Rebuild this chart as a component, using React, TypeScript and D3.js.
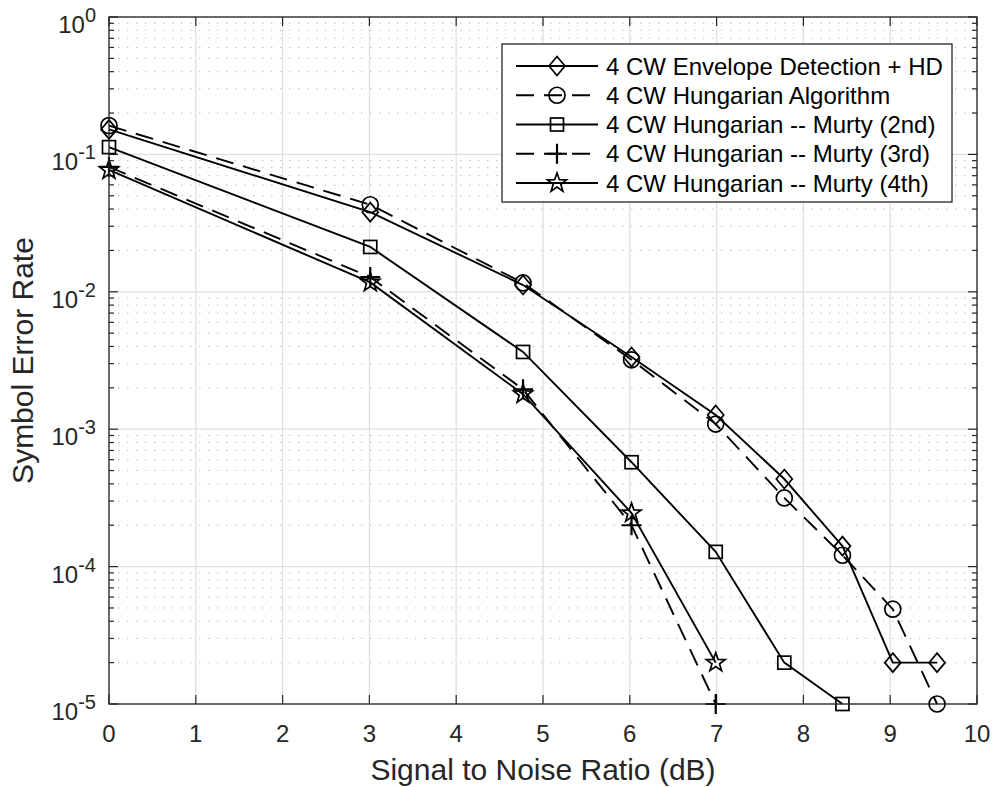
import React from "react";
import * as d3 from "d3";

const snr = [0, 3.01, 4.77, 6.02, 6.99, 7.78, 8.45, 9.03, 9.54];
const envHD = [0.152, 0.038, 0.0112, 0.00335, 0.00127, 0.000434, 0.000141, 2e-5, 2e-5];
const hungarian = [0.162, 0.043, 0.0116, 0.0032, 0.00109, 0.000316, 0.000121, 4.9e-5, 1e-5];
const murty2 = [0.113, 0.0212, 0.00365, 0.000575, 0.000128, 2e-5, 1e-5];
const murty3 = [0.081, 0.0128, 0.00195, 0.0002, 1e-5];
const murty4 = [0.077, 0.0117, 0.0018, 0.000245, 2e-5];

const seriesNames = [
  "4 CW Envelope Detection + HD",
  "4 CW Hungarian Algorithm",
  "4 CW Hungarian -- Murty (2nd)",
  "4 CW Hungarian -- Murty (3rd)",
  "4 CW Hungarian -- Murty (4th)",
];
const seriesValues = [envHD, hungarian, murty2, murty3, murty4];
const seriesMarkers = ["diamond", "circle", "square", "plus", "star"];
const seriesDashed = [false, true, false, true, false];

const xTicks = [0, 1, 2, 3, 4, 5, 6, 7, 8, 9, 10];
const yExponents = [0, -1, -2, -3, -4, -5];

const W = 995;
const H = 787;
const M = { left: 109, right: 977, top: 17, bottom: 704 };
const FONT = "'Liberation Sans', Arial, Helvetica, sans-serif";
const AX = "#262626";

function Marker({ type, x, y }: { type: string; x: number; y: number }) {
  const sw = 1.7;
  if (type === "diamond") {
    const h = 9.5, w = 8;
    return (
      <path d={`M${x},${y - h}L${x + w},${y}L${x},${y + h}L${x - w},${y}Z`} fill="none" stroke="#000" strokeWidth={sw} />
    );
  }
  if (type === "circle") {
    return <circle cx={x} cy={y} r={8} fill="none" stroke="#000" strokeWidth={sw} />;
  }
  if (type === "square") {
    const s = 6.5;
    return <rect x={x - s} y={y - s} width={2 * s} height={2 * s} fill="none" stroke="#000" strokeWidth={sw} />;
  }
  if (type === "plus") {
    const s = 10;
    return (
      <path d={`M${x - s},${y}L${x + s},${y}M${x},${y - s}L${x},${y + s}`} fill="none" stroke="#000" strokeWidth={2.2} />
    );
  }
  // pentagram
  const R = 10, r = 4;
  const pts: string[] = [];
  for (let i = 0; i < 10; i++) {
    const a = -Math.PI / 2 + (i * Math.PI) / 5;
    const rr = i % 2 === 0 ? R : r;
    pts.push(`${x + rr * Math.cos(a)},${y + rr * Math.sin(a)}`);
  }
  return <path d={`M${pts.join("L")}Z`} fill="none" stroke="#000" strokeWidth={sw} />;
}

export default function App() {
  const x = d3.scaleLinear().domain([0, 10]).range([M.left, M.right]);
  const y = d3.scaleLog().domain([1e-5, 1]).range([M.bottom, M.top]);

  const line = d3
    .line<[number, number]>()
    .x((d) => x(d[0]))
    .y((d) => y(d[1]));

  const minorVals: number[] = [];
  for (let e = -5; e < 0; e++) {
    for (let k = 2; k <= 9; k++) minorVals.push(k * Math.pow(10, e));
  }

  const legendX = 502, legendY = 44, legendW = 450, legendH = 158;
  const rowY = (i: number) => 66 + i * 29.25;

  return (
    <svg width={W} height={H} style={{ display: "block", position: "absolute", left: 0, top: 0, background: "#fff" }}>
      <rect x={0} y={0} width={W} height={H} fill="#fff" />
      {/* minor grid */}
      {minorVals.map((v, i) => (
        <line key={"mg" + i} x1={M.left} x2={M.right} y1={y(v)} y2={y(v)} stroke="#bdbdbd" strokeWidth={1} strokeDasharray="1.5 7.5" />
      ))}
      {/* major grid */}
      {xTicks.map((t) => (
        <line key={"gx" + t} x1={x(t)} x2={x(t)} y1={M.top} y2={M.bottom} stroke="#dfdfdf" strokeWidth={1.3} />
      ))}
      {yExponents.map((e) => (
        <line key={"gy" + e} x1={M.left} x2={M.right} y1={y(Math.pow(10, e))} y2={y(Math.pow(10, e))} stroke="#dfdfdf" strokeWidth={1.3} />
      ))}
      {/* ticks */}
      {xTicks.map((t) => (
        <g key={"tx" + t}>
          <line x1={x(t)} x2={x(t)} y1={M.bottom} y2={M.bottom - 9} stroke={AX} strokeWidth={1.2} />
          <line x1={x(t)} x2={x(t)} y1={M.top} y2={M.top + 9} stroke={AX} strokeWidth={1.2} />
          <text x={x(t)} y={742} textAnchor="middle" fontFamily={FONT} fontSize={24} fill={AX}>
            {t}
          </text>
        </g>
      ))}
      {yExponents.map((e) => (
        <g key={"ty" + e}>
          <line x1={M.left} x2={M.left + 9} y1={y(Math.pow(10, e))} y2={y(Math.pow(10, e))} stroke={AX} strokeWidth={1.2} />
          <line x1={M.right} x2={M.right - 9} y1={y(Math.pow(10, e))} y2={y(Math.pow(10, e))} stroke={AX} strokeWidth={1.2} />
          <text x={96} y={y(Math.pow(10, e)) + 16} textAnchor="end" fontFamily={FONT} fontSize={24} fill={AX}>
            10
            <tspan dy={-11} fontSize={20}>
              {e}
            </tspan>
          </text>
        </g>
      ))}
      {minorVals.map((v, i) => (
        <g key={"mt" + i}>
          <line x1={M.left} x2={M.left + 5} y1={y(v)} y2={y(v)} stroke={AX} strokeWidth={1.2} />
          <line x1={M.right} x2={M.right - 5} y1={y(v)} y2={y(v)} stroke={AX} strokeWidth={1.2} />
        </g>
      ))}
      {/* series */}
      {seriesValues.map((vals, si) => {
        const pts = vals.map((v, i) => [snr[i], v] as [number, number]);
        return (
          <g key={"s" + si}>
            <path d={line(pts) || ""} fill="none" stroke="#000" strokeWidth={1.9} strokeDasharray={seriesDashed[si] ? "18 10" : undefined} />
            {pts.map((p, i) => (
              <Marker key={i} type={seriesMarkers[si]} x={x(p[0])} y={y(p[1])} />
            ))}
          </g>
        );
      })}
      {/* axes box */}
      <rect x={M.left} y={M.top} width={M.right - M.left} height={M.bottom - M.top} fill="none" stroke={AX} strokeWidth={1.3} />
      {/* axis labels */}
      <text x={(M.left + M.right) / 2} y={780} textAnchor="middle" fontFamily={FONT} fontSize={30} fill={AX}>
        Signal to Noise Ratio (dB)
      </text>
      <text
        transform={`translate(33,${(M.top + M.bottom) / 2}) rotate(-90)`}
        textAnchor="middle"
        fontFamily={FONT}
        fontSize={30}
        fill={AX}
      >
        Symbol Error Rate
      </text>
      {/* legend */}
      <rect x={legendX} y={legendY} width={legendW} height={legendH} fill="#fff" stroke={AX} strokeWidth={1.3} />
      {seriesNames.map((name, i) => (
        <g key={"lg" + i}>
          <line x1={516} x2={598} y1={rowY(i)} y2={rowY(i)} stroke="#000" strokeWidth={1.9} strokeDasharray={seriesDashed[i] ? "18 10" : undefined} />
          <Marker type={seriesMarkers[i]} x={557} y={rowY(i)} />
          <text x={606} y={rowY(i) + 8.5} fontFamily={FONT} fontSize={24} fill="#000">
            {name}
          </text>
        </g>
      ))}
    </svg>
  );
}
